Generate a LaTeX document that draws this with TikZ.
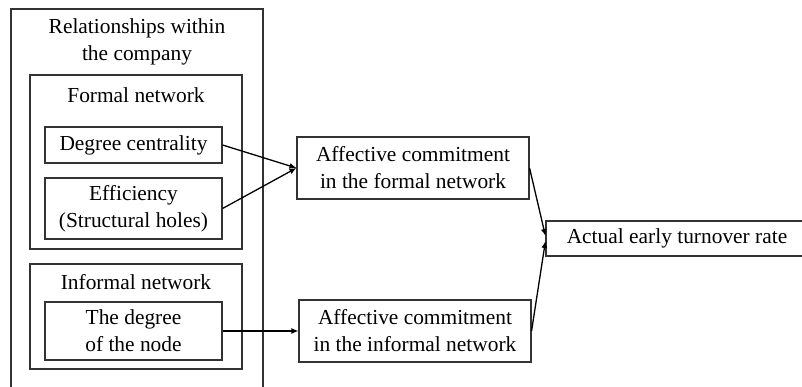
\documentclass[tikz,border=0pt]{standalone}
\usepackage{fontspec}
\setmainfont{Liberation Serif}
\usetikzlibrary{arrows.meta}
\begin{document}
\begin{tikzpicture}[x=1pt,y=-1pt,
  box/.style={draw=black!80,line width=1.1pt,inner sep=0pt,align=center,
    font=\fontsize{21.4}{27}\selectfont},
  lbl/.style={inner sep=0pt,align=center,font=\fontsize{21.4}{27}\selectfont},
  arr/.style={draw=black,line width=1.3pt,-{Latex[length=7pt,width=6pt]}}]
\useasboundingbox (0,0) rectangle (802,387);
% containers
\node[box,minimum width=252pt,minimum height=400pt] (outer) at (137,209) {};
\node[box,minimum width=212pt,minimum height=174pt] (formal) at (136,162) {};
\node[box,minimum width=212pt,minimum height=105pt] (informal) at (136,316.5) {};
% titles
\node[lbl] (ttl) at (137,41.5) {Relationships within\\the company};
\node[lbl] (ftl) at (136,95) {Formal network};
\node[lbl] (itl) at (136,282) {Informal network};
% inner boxes
\node[box,minimum width=177pt,minimum height=36pt] (deg) at (133.5,145) {Degree centrality};
\node[box,minimum width=177pt,minimum height=61pt] (eff) at (133.5,208.5) {Efficiency\\(Structural holes)};
\node[box,minimum width=177pt,minimum height=58pt] (node) at (133.5,331) {The degree\\of the node};
% right side
\node[box,minimum width=232pt,minimum height=62pt] (aff) at (413,168) {Affective commitment\\in the formal network};
\node[box,minimum width=232pt,minimum height=62pt] (affi) at (415,331) {Affective commitment\\in the informal network};
\node[box,minimum width=262pt,minimum height=35pt] (act) at (677,238.5) {Actual early turnover rate};
% arrows
\draw[arr] (deg.east) -- (aff.west);
\draw[arr] (eff.east) -- (aff.west);
\draw[arr] (node.east) -- (affi.west);
\draw[arr] (aff.east) -- ([yshift=2.5pt]act.west);
\draw[arr] (affi.east) -- ([yshift=-2.5pt]act.west);
\end{tikzpicture}
\end{document}
